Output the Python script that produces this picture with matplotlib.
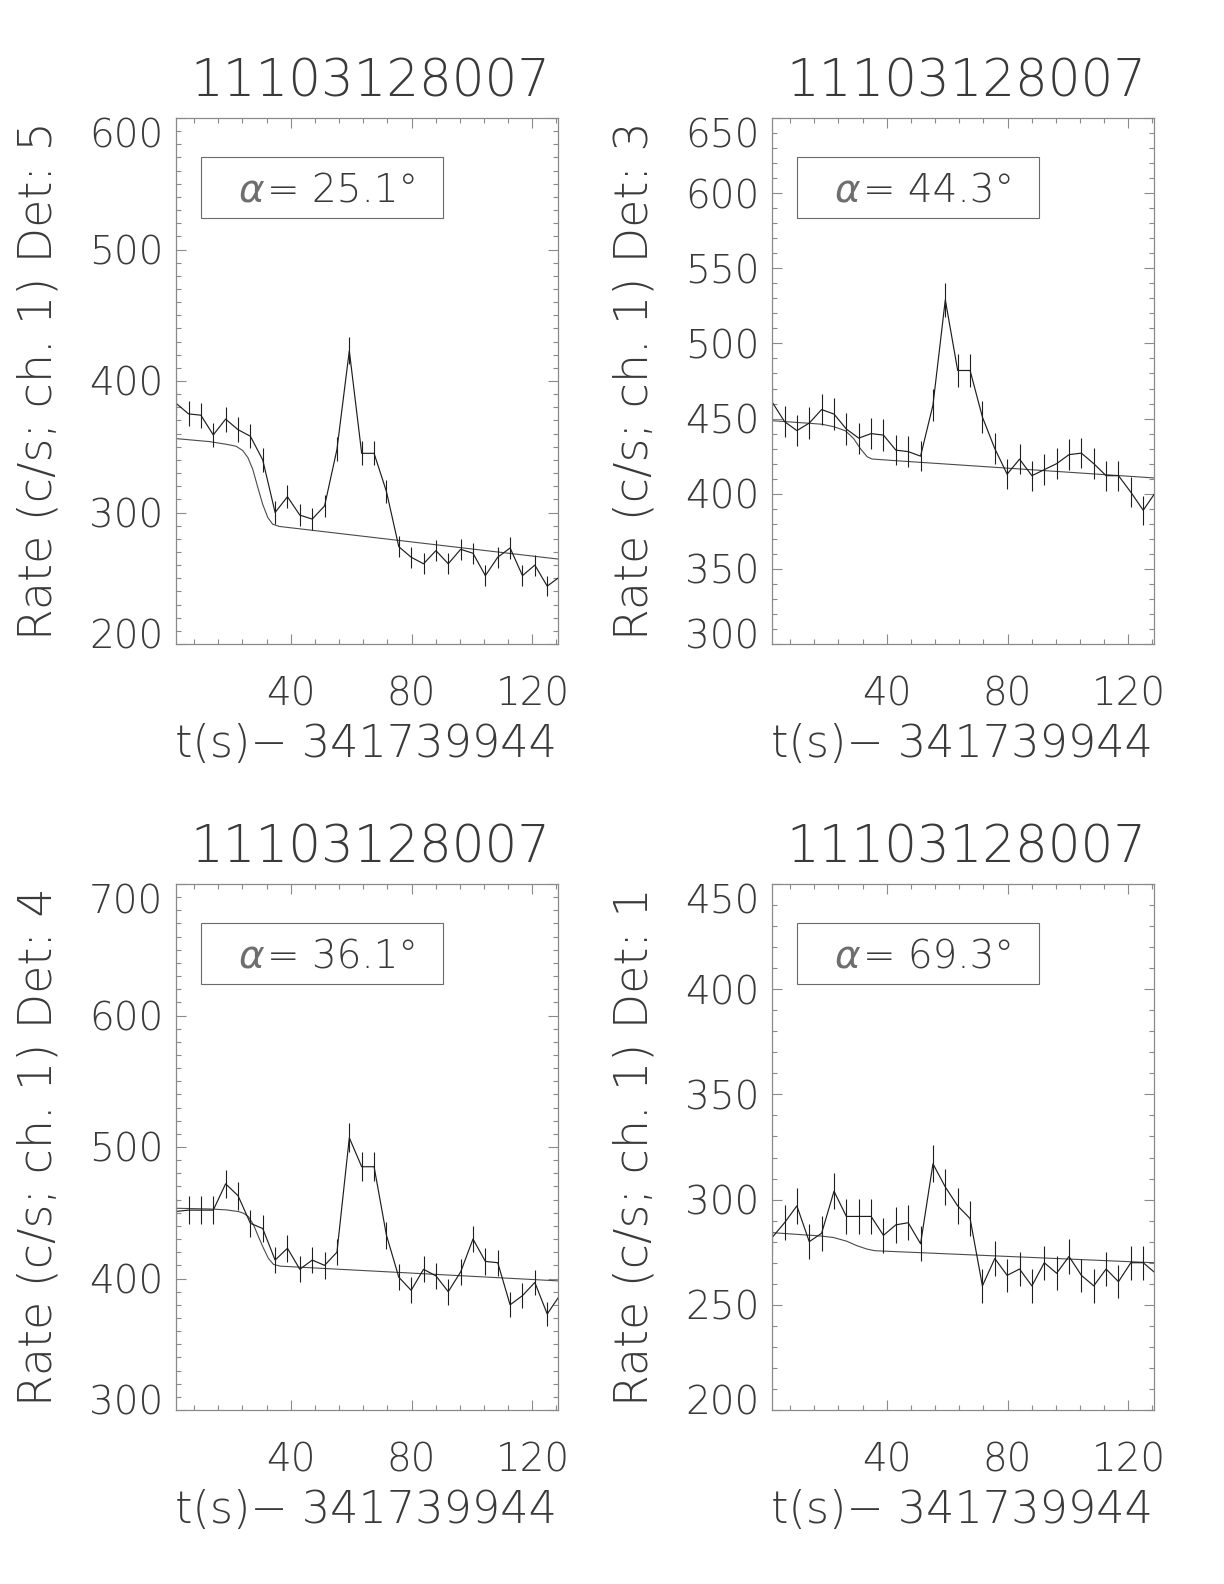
import matplotlib
matplotlib.use("Agg")
import matplotlib.pyplot as plt
from matplotlib.ticker import MultipleLocator, FixedLocator, NullFormatter
from matplotlib.patches import Rectangle
from matplotlib.transforms import blended_transform_factory, offset_copy

# ---------------- data ----------------
obs_id = "11103128007"
t_ref = "341739944"

# bin centres (s since t_ref)
t_bins = [2.05, 6.15, 10.24, 14.34, 18.43, 22.53, 26.63, 30.72, 34.82, 38.91,
          43.01, 47.11, 51.20, 55.30, 59.39, 63.49, 67.59, 71.68, 75.78, 79.87,
          83.97, 88.07, 92.16, 96.26, 100.35, 104.45, 108.55, 112.64, 116.74,
          120.83, 124.93, 129.03]

# Det 5
rate_det5 = [383, 375, 374, 359, 371, 363, 358, 340, 300, 312, 298, 295, 305, 348,
             423, 345, 345, 316, 274, 266, 261, 271, 261, 272, 269, 252, 266, 273,
             252, 260, 244, 251]
err_det5 = [9.7, 9.6, 9.6, 9.4, 9.5, 9.4, 9.3, 9.1, 8.6, 8.7, 8.5, 8.5, 8.6, 9.2,
            10.2, 9.2, 9.2, 8.8, 8.2, 8.1, 8.0, 8.1, 8.0, 8.1, 8.1, 7.8, 8.1, 8.2,
            7.8, 8.0, 7.7, 7.8]
bkg_t_det5 = [2.0, 13.1, 18.6, 21.9, 24.1, 25.8, 27.4, 29.1, 30.7, 32.4, 34.0, 36.2, 128.5]
bkg_det5 = [356.2, 353.9, 351.9, 350.4, 347.1, 341.8, 333.0, 319.0, 306.3, 296.2,
            291.1, 289.4, 264.6]

# Det 3
rate_det3 = [461, 448, 442, 447, 456, 453, 443, 437, 440, 439, 429, 428, 425, 459,
             529, 482, 482, 451, 430, 413, 423, 412, 416, 420, 426, 427, 420, 412,
             412, 401, 389, 401]
err_det3 = [10.6, 10.5, 10.4, 10.4, 10.6, 10.5, 10.4, 10.3, 10.4, 10.4, 10.2, 10.2,
            10.2, 10.6, 11.4, 10.8, 10.8, 10.5, 10.2, 10.0, 10.2, 10.0, 10.1, 10.1,
            10.2, 10.2, 10.1, 10.0, 10.0, 9.9, 9.7, 9.9]
bkg_t_det3 = [2.0, 14.1, 18.6, 22.4, 26.3, 29.0, 31.2, 33.5, 35.1, 42.8, 128.5]
bkg_det3 = [448.6, 446.9, 446.2, 444.6, 441.9, 436.8, 430.2, 424.6, 423.1, 422.0, 410.5]

# Det 4
rate_det4 = [451, 452, 452, 452, 472, 463, 442, 438, 414, 423, 407, 414, 410, 420,
             507, 485, 485, 433, 401, 391, 407, 402, 390, 405, 430, 413, 412, 380,
             387, 397, 373, 387]
err_det4 = [10.5, 10.5, 10.5, 10.5, 10.7, 10.6, 10.4, 10.3, 10.1, 10.2, 10.0, 10.1,
            10.0, 10.1, 11.1, 10.9, 10.9, 10.3, 9.9, 9.8, 10.0, 9.9, 9.8, 9.9, 10.2,
            10.0, 10.0, 9.6, 9.7, 9.8, 9.5, 9.7]
bkg_t_det4 = [2.0, 13.1, 18.6, 22.7, 24.4, 26.0, 27.7, 29.3, 31.0, 32.6, 34.3, 36.5, 128.5]
bkg_det4 = [453.4, 452.9, 452.2, 450.9, 449.6, 447.0, 440.7, 431.8, 422.9, 415.3,
            410.7, 409.4, 398.2]

# Det 1
rate_det1 = [282, 289, 297, 280, 284, 304, 292, 292, 292, 283, 288, 289, 279, 317,
             306, 297, 291, 259, 272, 264, 267, 259, 270, 265, 273, 264, 259, 267,
             261, 270, 270, 265]
err_det1 = [8.3, 8.4, 8.5, 8.3, 8.3, 8.6, 8.4, 8.4, 8.4, 8.3, 8.4, 8.4, 8.3, 8.8,
            8.6, 8.5, 8.4, 8.0, 8.1, 8.0, 8.1, 8.0, 8.1, 8.0, 8.2, 8.0, 8.0, 8.1,
            8.0, 8.1, 8.1, 8.0]
bkg_t_det1 = [2.0, 18.1, 22.3, 26.8, 30.1, 33.4, 36.1, 128.5]
bkg_det1 = [284.3, 282.7, 282.0, 280.2, 278.1, 276.5, 275.7, 270.0]

detectors = ["5", "3", "4", "1"]
alpha_angles = ["25.1", "44.3", "36.1", "69.3"]
x_ticks = [40, 80, 120]
y_ticks_det5 = [200, 300, 400, 500, 600]
y_ticks_det3 = [300, 350, 400, 450, 500, 550, 600, 650]
y_ticks_det4 = [300, 400, 500, 600, 700]
y_ticks_det1 = [200, 250, 300, 350, 400, 450]

panels = [
    (rate_det5, err_det5, bkg_t_det5, bkg_det5, y_ticks_det5),
    (rate_det3, err_det3, bkg_t_det3, bkg_det3, y_ticks_det3),
    (rate_det4, err_det4, bkg_t_det4, bkg_det4, y_ticks_det4),
    (rate_det1, err_det1, bkg_t_det1, bkg_det1, y_ticks_det1),
]

# ---------------- style ----------------
W, H = 1224, 1584
DPI = 100
FONT = ["DejaVu Sans"]
FW = 200
TXT = "#3a3a3a"
FRAME = "#8a8a8a"
plt.rcParams["font.family"] = FONT

fig = plt.figure(figsize=(W / DPI, H / DPI), dpi=DPI)
fig.patch.set_facecolor("white")

# axes boxes in pixels: (left, top, right, bottom)
boxes = [(176, 118, 558, 644), (772, 118, 1154, 644),
         (176, 884, 558, 1410), (772, 884, 1154, 1410)]

for i, (rate, err, bt, bv, yt) in enumerate(panels):
    l, t, r, b = boxes[i]
    aw = r - l
    ax = fig.add_axes([l / W, 1 - b / H, aw / W, (b - t) / H])
    ax.set_xlim(2.0, 128.5)
    ax.set_ylim(yt[0], yt[-1])

    ax.plot(bt, bv, color="#4a4a4a", lw=0.8, solid_joinstyle="round")
    ax.errorbar(t_bins, rate, yerr=err, fmt="none", ecolor="#1e1e1e",
                elinewidth=0.8, capsize=0)
    ax.plot(t_bins, rate, color="#1e1e1e", lw=0.85)

    ax.xaxis.set_major_locator(FixedLocator(x_ticks))
    ax.xaxis.set_minor_locator(MultipleLocator(8))
    ax.yaxis.set_major_locator(FixedLocator(yt))
    ax.yaxis.set_minor_locator(MultipleLocator(10))
    ax.yaxis.set_major_formatter(NullFormatter())
    ax.tick_params(which="both", direction="in", top=True, right=True,
                   color=FRAME, width=0.8)
    ax.tick_params(which="major", length=7.2)
    ax.tick_params(which="minor", length=3.3)
    ax.tick_params(axis="x", which="major", pad=22.5, labelsize=28, labelcolor=TXT)
    for lab in ax.get_xticklabels():
        lab.set_fontweight(FW)
    for sp in ax.spines.values():
        sp.set_color(FRAME)
        sp.set_linewidth(0.9)

    # y tick labels: end labels kept inside the axis range (IDL style)
    trans = blended_transform_factory(ax.transAxes, ax.transData)
    for k, v in enumerate(yt):
        tr = trans
        if k == len(yt) - 1:
            va = "top"
        elif k == 0:
            va = "baseline"
            tr = offset_copy(trans, fig=fig, x=0, y=-4.5, units="dots")
        else:
            va = "center_baseline"
        ax.text(-12.5 / aw, v, str(v), transform=tr, ha="right", va=va,
                fontsize=28, color=TXT, fontweight=FW)

    # alpha box
    ax.add_patch(Rectangle((0.065, 0.81), 0.635, 0.115, transform=ax.transAxes,
                           fill=False, edgecolor="#6a6a6a", lw=0.8))
    a_txt = ax.text(0.165, 0.8675, "α", transform=ax.transAxes, ha="left",
                    va="center_baseline", fontsize=28, color="#6e6e6e",
                    style="italic", fontweight=FW)
    ax.annotate("= " + alpha_angles[i] + "°", xy=(1.0, 0.0), xycoords=a_txt,
                xytext=(1.5, 0), textcoords="offset points", ha="left",
                va="bottom", fontsize=28, color=TXT, fontweight=FW)

    # title
    ax.text(0.508, 1.040, obs_id, transform=ax.transAxes, ha="center",
            va="baseline", fontsize=37, color=TXT, fontweight=FW)
    # x label
    ax.text(0.497, -0.215, "t(s)\u2212 " + t_ref, transform=ax.transAxes,
            ha="center", va="baseline", fontsize=32, color=TXT, fontweight=FW)
    # y label
    ax.text(-0.361, 0.5, "Rate (c/s; ch. 1) Det: " + detectors[i],
            transform=ax.transAxes, ha="center", va="center", rotation=90,
            fontsize=33, color=TXT, fontweight=FW)

fig.savefig("out.png", dpi=DPI, facecolor="white")
